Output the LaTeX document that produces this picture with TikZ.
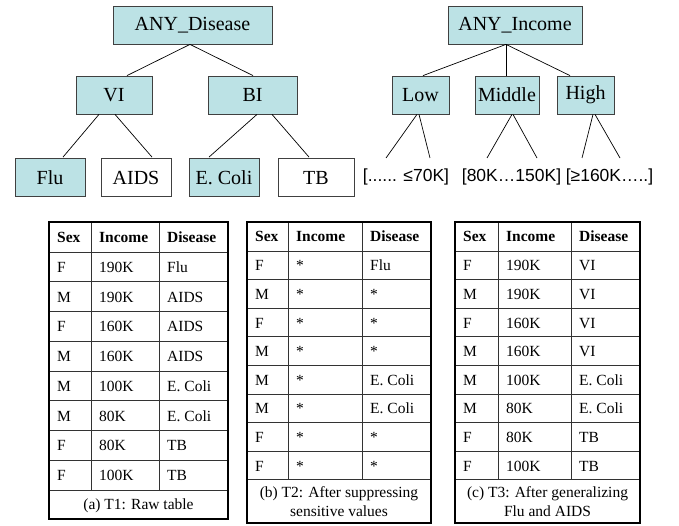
\documentclass[tikz,border=0pt]{standalone}
\usepackage{fontspec}
\setmainfont{Liberation Serif}
\newfontfamily\rangefont{Liberation Sans}
\usetikzlibrary{calc}

\definecolor{boxcyan}{RGB}{188,226,229}

\begin{document}
\begin{tikzpicture}[x=1pt,y=-1pt,
    treebox/.style={draw=black!75, fill=boxcyan, line width=0.8pt,
      minimum height=38pt, inner sep=0pt, font=\fontsize{20}{22}\selectfont},
    leafbox/.style={treebox, fill=white},
    branch/.style={draw=black, line width=0.7pt},
    cell/.style={anchor=base west, inner sep=0pt, font=\fontsize{15.5}{18}\selectfont},
    headcell/.style={cell, font=\fontsize{15.5}{18}\selectfont\bfseries},
    capcell/.style={align=center, inner sep=0pt, font=\fontsize{15.5}{19.5}\selectfont},
    rangelabel/.style={inner sep=0pt, font=\rangefont\fontsize{17.5}{20}\selectfont},
    tabframe/.style={draw=black, line width=2pt},
    tabrule/.style={draw=black!80, line width=0.8pt}]
    \useasboundingbox (0,0) rectangle (679,526);

    % Disease hierarchy
    \node[treebox, minimum width=159pt] (AnyDis) at (192.5,25) {ANY\_Disease};
    \node[treebox, minimum width=76pt]  (VI)     at (114,95)   {VI};
    \node[treebox, minimum width=89pt]  (BI)     at (252.5,95) {BI};
    \node[treebox, minimum width=70pt]  (Flu)    at (50,177.5)  {Flu};
    \node[leafbox, minimum width=70pt]  (AIDS)   at (136,177.5) {AIDS};
    \node[treebox, minimum width=70pt]  (EColi)  at (224,177.5) {E. Coli};
    \node[leafbox, minimum width=76pt]  (TB)     at (316,177.5) {TB};
    \draw[branch] ([xshift=-2.5pt]AnyDis.south) -- ([xshift=13pt]VI.north);
    \draw[branch] ([xshift=-2.5pt]AnyDis.south) -- ([xshift=0.5pt]BI.north);
    \draw[branch] ([xshift=-15pt]VI.south) -- ([xshift=13pt,yshift=1pt]Flu.north);
    \draw[branch] ([xshift=1pt]VI.south) -- ([xshift=16pt,yshift=1pt]AIDS.north);
    \draw[branch] ([xshift=4.5pt]BI.south) -- ([xshift=-15pt,yshift=1pt]EColi.north);
    \draw[branch] ([xshift=19.5pt]BI.south) -- ([xshift=-7pt,yshift=1pt]TB.north);

    % Income hierarchy
    \node[treebox, minimum width=134pt] (AnyInc) at (515,25)   {ANY\_Income};
    \node[treebox, minimum width=57pt]  (Low)    at (420.5,95) {Low};
    \node[treebox, minimum width=64pt]  (Middle) at (507,95)   {Middle};
    \node[treebox, minimum width=57pt]  (High)   at (585.5,95) {High};
    \draw[branch] ([xshift=-9pt]AnyInc.south) -- ([xshift=2.5pt]Low.north);
    \draw[branch] ([xshift=-9pt]AnyInc.south) -- ([xshift=-1pt]Middle.north);
    \draw[branch] ([xshift=-9pt]AnyInc.south) -- ([xshift=-15.5pt]High.north);
    \node[rangelabel] (LowRange)  at (406,177)   {[...... ≤70K]};
    \node[rangelabel] (MidRange)  at (511.5,177) {[80K…150K]};
    \node[rangelabel] (HighRange) at (609.5,177) {[≥160K…..]};
    \coordinate (LowA)  at (386,158);
    \coordinate (LowB)  at (430,158);
    \coordinate (MidA)  at (487,158);
    \coordinate (MidB)  at (537,158);
    \coordinate (HighA) at (582,158);
    \coordinate (HighB) at (620,158);
    \draw[branch] ([xshift=-3.5pt]Low.south) -- (LowA);
    \draw[branch] ([xshift=-1.5pt]Low.south) -- (LowB);
    \draw[branch] ([xshift=5pt]Middle.south) -- (MidA);
    \draw[branch] ([xshift=6pt]Middle.south) -- (MidB);
    \draw[branch] ([xshift=7.5pt]High.south) -- (HighA);
    \draw[branch] ([xshift=9.5pt]High.south) -- (HighB);

    % (a) T1: raw table
    \foreach \r in {0,...,8}
      \draw[tabrule] (49,{252+\r*29.75}) -- (228,{252+\r*29.75});
    \foreach \c in {91,159}
      \draw[tabrule] (\c,222) -- (\c,490);
    \node[headcell] (TaSex) at (57,242.5)  {Sex};
    \node[headcell] (TaInc) at (99,242.5)  {Income};
    \node[headcell] (TaDis) at (167,242.5) {Disease};
    \foreach \sx/\inc/\dis [count=\r from 0] in {F/190K/Flu, M/190K/AIDS,
        F/160K/AIDS, M/160K/AIDS, M/100K/E. Coli, M/80K/E. Coli, F/80K/TB, F/100K/TB}{
      \node[cell] (Ta\r s) at (57,{272.4+\r*29.75})  {\sx};
      \node[cell] (Ta\r i) at (99,{272.4+\r*29.75})  {\inc};
      \node[cell] (Ta\r d) at (167,{272.4+\r*29.75}) {\dis};
    }
    \node[capcell] (TaCap) at (138.5,505.5) {(a) T1: Raw table};
    \draw[tabframe] (49,222) rectangle (228,519);

    % (b) T2: suppressed values
    \foreach \r in {0,...,8}
      \draw[tabrule] (247,{251+\r*28.6}) -- (431,{251+\r*28.6});
    \foreach \c in {288,362}
      \draw[tabrule] (\c,222) -- (\c,479.8);
    \node[headcell] (TbSex) at (255,242) {Sex};
    \node[headcell] (TbInc) at (296,242) {Income};
    \node[headcell] (TbDis) at (370,242) {Disease};
    \foreach \sx/\inc/\dis [count=\r from 0] in {F/*/Flu, M/*/*, F/*/*, M/*/*,
        M/*/E. Coli, M/*/E. Coli, F/*/*, F/*/*}{
      \node[cell] (Tb\r s) at (255,{270.8+\r*28.6}) {\sx};
      \node[cell] (Tb\r i) at (296,{270.8+\r*28.6}) {\inc};
      \node[cell] (Tb\r d) at (370,{270.8+\r*28.6}) {\dis};
    }
    \node[capcell] (TbCap) at (339,501.5) {(b) T2: After suppressing\\sensitive values};
    \draw[tabframe] (247,222) rectangle (431,523);

    % (c) T3: generalized values
    \foreach \r in {0,...,8}
      \draw[tabrule] (455,{251+\r*28.6}) -- (640,{251+\r*28.6});
    \foreach \c in {498,571}
      \draw[tabrule] (\c,222) -- (\c,479.8);
    \node[headcell] (TcSex) at (463,242) {Sex};
    \node[headcell] (TcInc) at (506,242) {Income};
    \node[headcell] (TcDis) at (579,242) {Disease};
    \foreach \sx/\inc/\dis [count=\r from 0] in {F/190K/VI, M/190K/VI,
        F/160K/VI, M/160K/VI, M/100K/E. Coli, M/80K/E. Coli, F/80K/TB, F/100K/TB}{
      \node[cell] (Tc\r s) at (463,{270.8+\r*28.6}) {\sx};
      \node[cell] (Tc\r i) at (506,{270.8+\r*28.6}) {\inc};
      \node[cell] (Tc\r d) at (579,{270.8+\r*28.6}) {\dis};
    }
    \node[capcell] (TcCap) at (547.5,501.5) {(c) T3: After generalizing\\Flu and AIDS};
    \draw[tabframe] (455,222) rectangle (640,523);
\end{tikzpicture}
\end{document}
